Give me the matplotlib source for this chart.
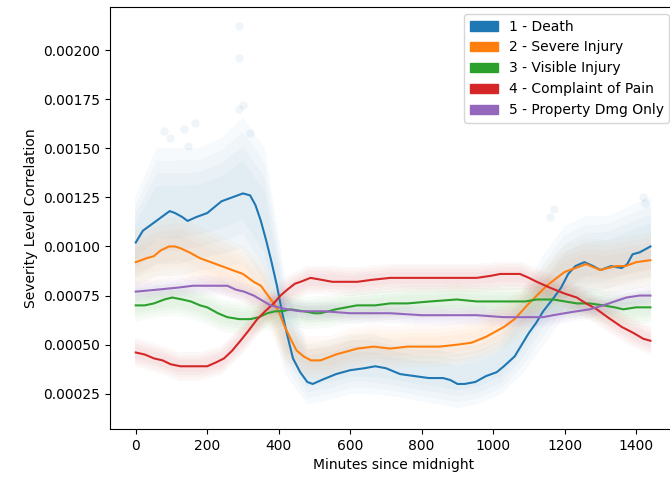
import matplotlib
matplotlib.use("Agg")
import matplotlib.pyplot as plt
import matplotlib.patches as mpatches
import numpy as np

labels = ["1 - Death", "2 - Severe Injury", "3 - Visible Injury",
          "4 - Complaint of Pain", "5 - Property Dmg Only"]
colors = ["tab:blue", "tab:orange", "tab:green", "tab:red", "tab:purple"]

# smoothed lines (minute, value)
death_x = [0, 20, 50, 80, 95, 110, 130, 145, 170, 200, 220, 240, 270, 300, 320, 335, 350,
           365, 380, 395, 410, 425, 440, 460, 480, 495, 520, 560, 600, 640, 670, 700, 740,
           780, 820, 860, 880, 900, 920, 950, 980, 1010, 1030, 1060, 1080, 1100, 1120, 1140,
           1170, 1190, 1210, 1230, 1255, 1280, 1300, 1330, 1360, 1375, 1390, 1410, 1440]
death_y = [0.00102, 0.00108, 0.00112, 0.00116, 0.00118, 0.00117, 0.00115, 0.00113, 0.00115,
           0.00117, 0.00120, 0.00123, 0.00125, 0.00127, 0.00126, 0.00121, 0.00113, 0.00103,
           0.00092, 0.00080, 0.00066, 0.00054, 0.00043, 0.00036, 0.00031, 0.00030, 0.00032,
           0.00035, 0.00037, 0.00038, 0.00039, 0.00038, 0.00035, 0.00034, 0.00033, 0.00033,
           0.00032, 0.00030, 0.00030, 0.00031, 0.00034, 0.00036, 0.00039, 0.00044, 0.00050,
           0.00056, 0.00061, 0.00067, 0.00074, 0.00079, 0.00086, 0.00090, 0.00092, 0.00090,
           0.00088, 0.00090, 0.00089, 0.00091, 0.00096, 0.00097, 0.00100]

severe_x = [0, 30, 50, 70, 93, 110, 126, 150, 180, 210, 240, 270, 300, 330, 350, 370, 390,
            400, 415, 433, 450, 470, 490, 517, 560, 620, 666, 712, 760, 805, 850, 900, 940,
            980, 1010, 1030, 1060, 1080, 1100, 1122, 1150, 1178, 1200, 1230, 1260, 1300,
            1320, 1345, 1370, 1400, 1440]
severe_y = [0.00092, 0.00094, 0.00095, 0.00098, 0.00100, 0.00100, 0.00099, 0.00097, 0.00094,
            0.00092, 0.00090, 0.00088, 0.00086, 0.00082, 0.00080, 0.00075, 0.00070, 0.00067,
            0.00060, 0.00053, 0.00047, 0.00044, 0.00042, 0.00042, 0.00045, 0.00048, 0.00049,
            0.00048, 0.00049, 0.00049, 0.00049, 0.00050, 0.00051, 0.00054, 0.00057, 0.00059,
            0.00063, 0.00067, 0.00071, 0.00075, 0.00080, 0.00084, 0.00087, 0.00089, 0.00091,
            0.00088, 0.00089, 0.00090, 0.00090, 0.00092, 0.00093]

visible_x = [0, 25, 51, 80, 102, 130, 154, 180, 200, 230, 256, 290, 321, 345, 368, 390, 410,
             433, 470, 500, 517, 560, 619, 670, 712, 760, 824, 898, 954, 1010, 1057, 1090,
             1122, 1168, 1234, 1270, 1308, 1340, 1364, 1400, 1440]
visible_y = [0.00070, 0.00070, 0.00071, 0.00073, 0.00074, 0.00073, 0.00072, 0.00070, 0.00069,
             0.00066, 0.00064, 0.00063, 0.00063, 0.00064, 0.00066, 0.00067, 0.00067, 0.00068,
             0.00067, 0.00066, 0.00066, 0.00068, 0.00070, 0.00070, 0.00071, 0.00071, 0.00072,
             0.00073, 0.00072, 0.00072, 0.00072, 0.00072, 0.00073, 0.00073, 0.00071, 0.00071,
             0.00070, 0.00069, 0.00068, 0.00069, 0.00069]

pain_x = [0, 25, 51, 75, 98, 125, 154, 180, 200, 225, 247, 270, 293, 315, 340, 362, 386, 405,
          424, 445, 461, 489, 520, 550, 582, 620, 660, 712, 760, 800, 852, 900, 954, 992, 1020,
          1047, 1075, 1100, 1122, 1159, 1200, 1234, 1260, 1290, 1320, 1336, 1360, 1392, 1420,
          1440]
pain_y = [0.00046, 0.00045, 0.00043, 0.00042, 0.00040, 0.00039, 0.00039, 0.00039, 0.00039,
          0.00041, 0.00043, 0.00047, 0.00052, 0.00057, 0.00063, 0.00067, 0.00071, 0.00075,
          0.00078, 0.00081, 0.00082, 0.00084, 0.00083, 0.00082, 0.00082, 0.00082, 0.00083,
          0.00084, 0.00084, 0.00084, 0.00084, 0.00084, 0.00084, 0.00085, 0.00086, 0.00086,
          0.00086, 0.00084, 0.00082, 0.00079, 0.00076, 0.00074, 0.00071, 0.00068, 0.00064,
          0.00062, 0.00059, 0.00056, 0.00053, 0.00052]

pdo_x = [0, 60, 116, 160, 209, 256, 280, 303, 330, 349, 377, 400, 424, 460, 526, 600, 712,
         800, 954, 1029, 1103, 1140, 1168, 1200, 1234, 1270, 1308, 1340, 1373, 1410, 1440]
pdo_y = [0.00077, 0.00078, 0.00079, 0.00080, 0.00080, 0.00080, 0.00078, 0.00077, 0.00075,
         0.00073, 0.00070, 0.00069, 0.00068, 0.00067, 0.00067, 0.00066, 0.00066, 0.00065,
         0.00065, 0.00064, 0.00064, 0.00064, 0.00065, 0.00066, 0.00067, 0.00068, 0.00070,
         0.00072, 0.00074, 0.00075, 0.00075]

# spread of the per-minute points, hourly envelopes
band_x = [0, 60, 120, 180, 240, 300, 360, 420, 480, 540, 600, 660, 720, 780, 840, 900, 960,
          1020, 1080, 1140, 1200, 1260, 1320, 1380, 1440]
death_lo = [0.00080, 0.00085, 0.00085, 0.00088, 0.00090, 0.00092, 0.00075, 0.00035, 0.00020,
            0.00022, 0.00025, 0.00025, 0.00024, 0.00022, 0.00020, 0.00018, 0.00020, 0.00025,
            0.00035, 0.00050, 0.00065, 0.00072, 0.00075, 0.00078, 0.00080]
death_hi = [0.00125, 0.00150, 0.00150, 0.00150, 0.00155, 0.00165, 0.00150, 0.00080, 0.00050,
            0.00052, 0.00055, 0.00055, 0.00052, 0.00050, 0.00050, 0.00048, 0.00050, 0.00055,
            0.00075, 0.00095, 0.00110, 0.00115, 0.00115, 0.00120, 0.00125]
severe_lo = [0.00078, 0.00082, 0.00084, 0.00080, 0.00076, 0.00072, 0.00064, 0.00040, 0.00033,
             0.00033, 0.00037, 0.00039, 0.00038, 0.00039, 0.00039, 0.00040, 0.00042, 0.00047,
             0.00055, 0.00065, 0.00074, 0.00077, 0.00076, 0.00078, 0.00080]
severe_hi = [0.00108, 0.00113, 0.00115, 0.00110, 0.00105, 0.00100, 0.00090, 0.00062, 0.00054,
             0.00054, 0.00058, 0.00060, 0.00059, 0.00060, 0.00060, 0.00061, 0.00063, 0.00070,
             0.00078, 0.00090, 0.00100, 0.00104, 0.00103, 0.00105, 0.00107]
visible_lo = [0.00062, 0.00064, 0.00065, 0.00062, 0.00057, 0.00055, 0.00057, 0.00060, 0.00058,
              0.00059, 0.00061, 0.00062, 0.00063, 0.00064, 0.00064, 0.00065, 0.00064, 0.00064,
              0.00064, 0.00065, 0.00064, 0.00063, 0.00061, 0.00060, 0.00061]
visible_hi = [0.00078, 0.00080, 0.00081, 0.00078, 0.00073, 0.00071, 0.00073, 0.00076, 0.00074,
              0.00075, 0.00077, 0.00078, 0.00079, 0.00080, 0.00080, 0.00081, 0.00080, 0.00080,
              0.00080, 0.00081, 0.00080, 0.00079, 0.00077, 0.00076, 0.00077]
pain_lo = [0.00039, 0.00036, 0.00032, 0.00032, 0.00035, 0.00046, 0.00059, 0.00070, 0.00076,
           0.00076, 0.00075, 0.00076, 0.00077, 0.00077, 0.00077, 0.00077, 0.00077, 0.00078,
           0.00078, 0.00073, 0.00069, 0.00064, 0.00057, 0.00050, 0.00045]
pain_hi = [0.00053, 0.00050, 0.00046, 0.00046, 0.00049, 0.00060, 0.00073, 0.00084, 0.00090,
           0.00090, 0.00089, 0.00090, 0.00091, 0.00091, 0.00091, 0.00091, 0.00091, 0.00092,
           0.00092, 0.00087, 0.00083, 0.00078, 0.00071, 0.00064, 0.00059]
pdo_lo = [0.00072, 0.00073, 0.00074, 0.00075, 0.00075, 0.00072, 0.00067, 0.00064, 0.00062,
          0.00062, 0.00061, 0.00061, 0.00061, 0.00060, 0.00060, 0.00060, 0.00060, 0.00059,
          0.00059, 0.00059, 0.00061, 0.00063, 0.00065, 0.00068, 0.00070]
pdo_hi = [0.00082, 0.00083, 0.00084, 0.00085, 0.00085, 0.00082, 0.00077, 0.00074, 0.00072,
          0.00072, 0.00071, 0.00071, 0.00071, 0.00070, 0.00070, 0.00070, 0.00070, 0.00069,
          0.00069, 0.00069, 0.00071, 0.00073, 0.00075, 0.00078, 0.00080]

# stray Death points above the cloud
outlier_x = [290, 290, 290, 300, 80, 135, 165, 95, 145, 320, 1160, 1170, 1420, 1425]
outlier_y = [0.00212, 0.00196, 0.00170, 0.00172, 0.00159, 0.00160, 0.00163, 0.00155, 0.00151,
             0.00158, 0.00115, 0.00119, 0.00125, 0.00122]

lines = [(death_x, death_y), (severe_x, severe_y), (visible_x, visible_y),
         (pain_x, pain_y), (pdo_x, pdo_y)]
bands = [(death_lo, death_hi), (severe_lo, severe_hi), (visible_lo, visible_hi),
         (pain_lo, pain_hi), (pdo_lo, pdo_hi)]

fig = plt.figure(figsize=(6.7, 4.8), dpi=100)
ax = fig.add_axes([0.1642, 0.106, 0.845, 0.8794])

# layered fills so the cloud fades towards its edges
for (lo, hi), c in zip(bands, colors):
    lo = np.array(lo)
    hi = np.array(hi)
    mid = (lo + hi) / 2
    half = (hi - lo) / 2
    for f in [1.0, 0.8, 0.6, 0.4]:
        ax.fill_between(band_x, mid - half * f, mid + half * f, facecolor=c, alpha=0.03,
                        edgecolor="none", linewidth=0, antialiased=False)
ax.scatter(outlier_x, outlier_y, color=colors[0], alpha=0.07, s=36, linewidths=0)

for (x, y), c in zip(lines, colors):
    ax.plot(x, y, color=c, linewidth=1.5)

ax.set_xlim(-72, 1512)
ax.set_ylim(0.00007, 0.002219)
ax.set_xticks([0, 200, 400, 600, 800, 1000, 1200, 1400])
ax.set_yticks([0.00025, 0.0005, 0.00075, 0.001, 0.00125, 0.0015, 0.00175, 0.002])
ax.set_yticklabels(["%.5f" % t for t in ax.get_yticks()])
ax.set_xlabel("Minutes since midnight")
ax.set_ylabel("Severity Level Correlation")

handles = [mpatches.Patch(color=c, label=l) for c, l in zip(colors, labels)]
ax.legend(handles=handles, loc="upper right")

fig.savefig("out.png", dpi=100)
